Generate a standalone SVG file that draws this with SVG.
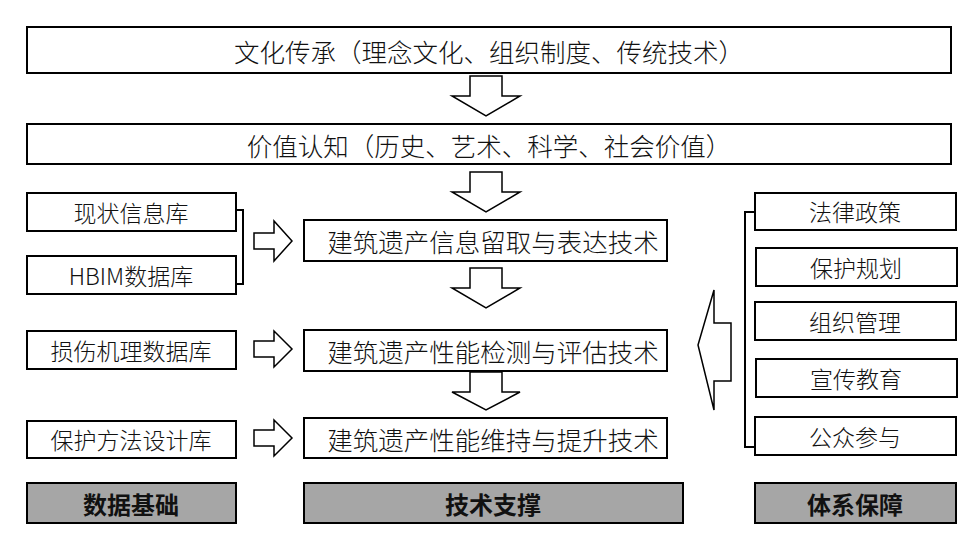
<svg xmlns="http://www.w3.org/2000/svg" width="979" height="545" viewBox="0 0 979 545">
<style>
.b{fill:#fff;stroke:#000;stroke-width:2}
.g{fill:#a6a6a6;stroke:#000;stroke-width:2}
.a{fill:#fff;stroke:#000;stroke-width:1.5}
.l{fill:none;stroke:#000;stroke-width:2}
text{font-family:"Noto Sans CJK SC","Liberation Serif",sans-serif;font-size:23px;font-weight:300;text-anchor:middle;dominant-baseline:central;fill:#111}
.m{font-size:25.5px}
.t{font-weight:bold;font-size:24px}
</style>
<rect width="979" height="545" fill="#fff"/>
<g id="top"><rect class="b" x="27" y="27" width="924" height="46"/><text class="m" x="489" y="50">文化传承（理念文化、组织制度、传统技术）</text></g>
<g id="value"><rect class="b" x="27" y="124" width="924" height="40"/><text class="m" x="489" y="144">价值认知（历史、艺术、科学、社会价值）</text></g>
<g id="d1"><rect class="b" x="27" y="193" width="209" height="38"/><text x="131" y="212">现状信息库</text></g>
<g id="d2"><rect class="b" x="27" y="256" width="209" height="38"/><text x="131" y="275">HBIM数据库</text></g>
<g id="d3"><rect class="b" x="27" y="331" width="209" height="38"/><text x="131" y="350">损伤机理数据库</text></g>
<g id="d4"><rect class="b" x="27" y="421" width="209" height="37"/><text x="131" y="439">保护方法设计库</text></g>
<g id="t1"><rect class="b" x="304" y="220" width="363" height="41"/><text class="m" x="493" y="240">建筑遗产信息留取与表达技术</text></g>
<g id="t2"><rect class="b" x="304" y="330" width="363" height="41"/><text class="m" x="493" y="350">建筑遗产性能检测与评估技术</text></g>
<g id="t3"><rect class="b" x="304" y="418" width="363" height="40"/><text class="m" x="493" y="438">建筑遗产性能维持与提升技术</text></g>
<g id="s1"><rect class="b" x="755" y="193" width="201" height="37"/><text x="855" y="211">法律政策</text></g>
<g id="s2"><rect class="b" x="756" y="248" width="201" height="38"/><text x="856" y="267">保护规划</text></g>
<g id="s3"><rect class="b" x="755" y="302" width="201" height="38"/><text x="855" y="321">组织管理</text></g>
<g id="s4"><rect class="b" x="756" y="359" width="201" height="38"/><text x="856" y="378">宣传教育</text></g>
<g id="s5"><rect class="b" x="755" y="417" width="201" height="38"/><text x="855" y="436">公众参与</text></g>
<g id="f1"><rect class="g" x="27" y="483" width="209" height="40"/><text class="t" x="131" y="503">数据基础</text></g>
<g id="f2"><rect class="g" x="304" y="483" width="379" height="40"/><text class="t" x="493" y="503">技术支撑</text></g>
<g id="f3"><rect class="g" x="755" y="483" width="201" height="40"/><text class="t" x="855" y="503">体系保障</text></g>
<g id="connectors">
<path class="a" d="M470,76 H502 V96 H520 L486,116 L452,96 H470 Z"/>
<path class="a" d="M470,172 H502 V192 H520 L486,212 L452,192 H470 Z"/>
<path class="a" d="M470,268 H502 V288 H520 L486,308 L452,288 H470 Z"/>
<path class="a" d="M470,372 H502 V392 H520 L486,410 L452,392 H470 Z"/>
<path class="a" d="M254,233 H274 V221 L292,241 L274,261 V249 H254 Z"/>
<path class="a" d="M254,341 H274 V331 L292,349 L274,367 V357 H254 Z"/>
<path class="a" d="M254,430 H274 V420 L292,438 L274,456 V446 H254 Z"/>
<path class="a" d="M731,323 H714 V290 L698,345 L714,410 V381 H731 Z"/>
<path class="l" d="M236,210 H243 V284 H236"/>
<path class="l" d="M755,212 H745 V447 H755"/>
</g>
</svg>
